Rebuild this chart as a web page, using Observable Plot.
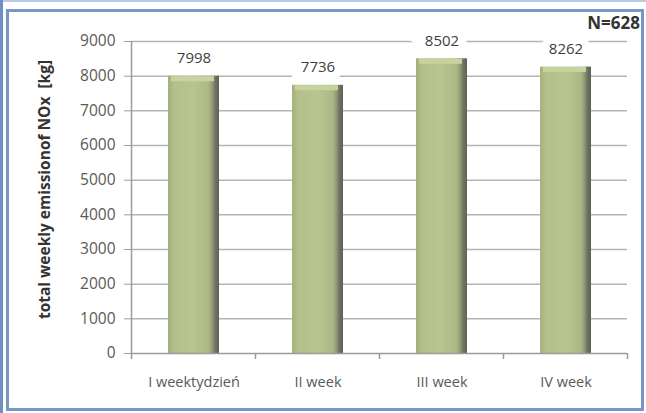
<!DOCTYPE html>
<html>
<head>
<meta charset="utf-8">
<script src="https://cdn.jsdelivr.net/npm/d3@7"></script>
<script src="https://cdn.jsdelivr.net/npm/@observablehq/plot@0.6"></script>
<style>
  html, body { margin: 0; padding: 0; background: #fff; }
  #wrap { position: relative; width: 646px; height: 413px; overflow: hidden; background: #fff; }
  #leftstripe { position: absolute; left: 0; top: 0; width: 3px; height: 413px; background: #6f8fc4; }
  #topline { position: absolute; left: 0; top: 0; width: 646px; height: 2px; background: #b9c9e2; }
  #box { position: absolute; left: 6px; top: 9px; width: 632px; height: 396px; border: 3px solid #7896c8; box-sizing: content-box; }
  #chart { position: absolute; left: 0; top: 0; }
  #note { position: absolute; right: 6px; top: 11px; font: bold 17px "Open Sans", "Liberation Sans", sans-serif; color: #333; }
</style>
</head>
<body>
<div id="wrap">
  <div id="topline"></div>
  <div id="leftstripe"></div>
  <div id="box"></div>
  <div id="chart"></div>
  <div id="note">N=628</div>
</div>
<script>
const weeks = ["I weektydzień", "II week", "III week", "IV week"];
const emissions = [7998, 7736, 8502, 8262];
const yTicks = [0, 1000, 2000, 3000, 4000, 5000, 6000, 7000, 8000, 9000];
const yLabel = "total weekly emissionof NOx  [kg]";

const data = weeks.map((w, i) => ({week: w, value: emissions[i]}));
const font = "'Open Sans', 'Liberation Sans', 'DejaVu Sans', sans-serif";

const defs = () => {
  const d = d3.create("svg:defs");
  const g = d.append("linearGradient").attr("id", "barGrad").attr("x1", "0").attr("x2", "1").attr("y1", "0").attr("y2", "0");
  [[0, "#a3b07a"], [0.12, "#b3c08b"], [0.5, "#b8c591"], [0.8, "#abb885"], [0.88, "#8d9472"], [0.93, "#6d7262"], [1, "#5e6255"]]
    .forEach(([o, c]) => g.append("stop").attr("offset", o).attr("stop-color", c));
  return d.node();
};

// y axis line and band boundary tick marks below the x axis
const axisLines = (index, scales, values, dimensions) => {
  const x = scales.x, y = scales.y;
  const step = x.step(), bw = x.bandwidth();
  const y0 = y(0);
  const g = d3.create("svg:g").attr("stroke", "#9a9a9a").attr("stroke-width", 1.5);
  const dom = x.domain();
  const edges = dom.map(d => x(d) + bw / 2 - step / 2);
  edges.push(x(dom[dom.length - 1]) + bw / 2 + step / 2);
  edges.forEach(e => g.append("line").attr("x1", e).attr("x2", e).attr("y1", y0).attr("y2", y0 + 6));
  g.append("line").attr("x1", edges[0]).attr("x2", edges[0]).attr("y1", y(9000)).attr("y2", y0);
  return g.node();
};

const plot = Plot.plot({
  width: 646,
  height: 413,
  marginLeft: 131,
  marginRight: 19,
  marginTop: 41,
  marginBottom: 60,
  style: {fontFamily: font, fontSize: "15px", color: "#595959", background: "transparent"},
  x: {domain: weeks, paddingInner: 0.59, paddingOuter: 0.295, label: null},
  y: {domain: [0, 9000], ticks: yTicks, label: null},
  marks: [
    defs,
    Plot.ruleY(yTicks.filter(d => d > 0), {stroke: "#b4b4b4", strokeWidth: 1.5, strokeOpacity: 1}),
    Plot.axisY({ticks: yTicks, tickSize: 7, tickPadding: 9, stroke: "#9a9a9a", tickFormat: d => String(d), fill: "#595959", fontSize: 15.5, label: null}),
    Plot.axisX({tickSize: 0, tickPadding: 23, fill: "#595959", fontSize: 14.5, label: null}),
    Plot.barY(data, {x: "week", y: "value", fill: "url(#barGrad)"}),
    Plot.tickY(data, {x: "week", y: "value", stroke: "#c8d29f", strokeWidth: 5, dy: 2.5, insetLeft: 3, insetRight: 5}),
    Plot.ruleY([0], {stroke: "#9a9a9a", strokeWidth: 1.5}),
    axisLines,
    Plot.text(data, {x: "week", y: "value", text: d => String(d.value), dy: -18, fill: "#404040", stroke: "white", strokeWidth: 16, strokeLinejoin: "miter", fontSize: 15}),
    Plot.text([yLabel], {frameAnchor: "left", text: d => d, rotate: -90, textAnchor: "middle", dx: -86, dy: -8, fill: "#333", fontWeight: "bold", fontSize: 15.5})
  ]
});
document.getElementById("chart").appendChild(plot);
</script>
</body>
</html>
